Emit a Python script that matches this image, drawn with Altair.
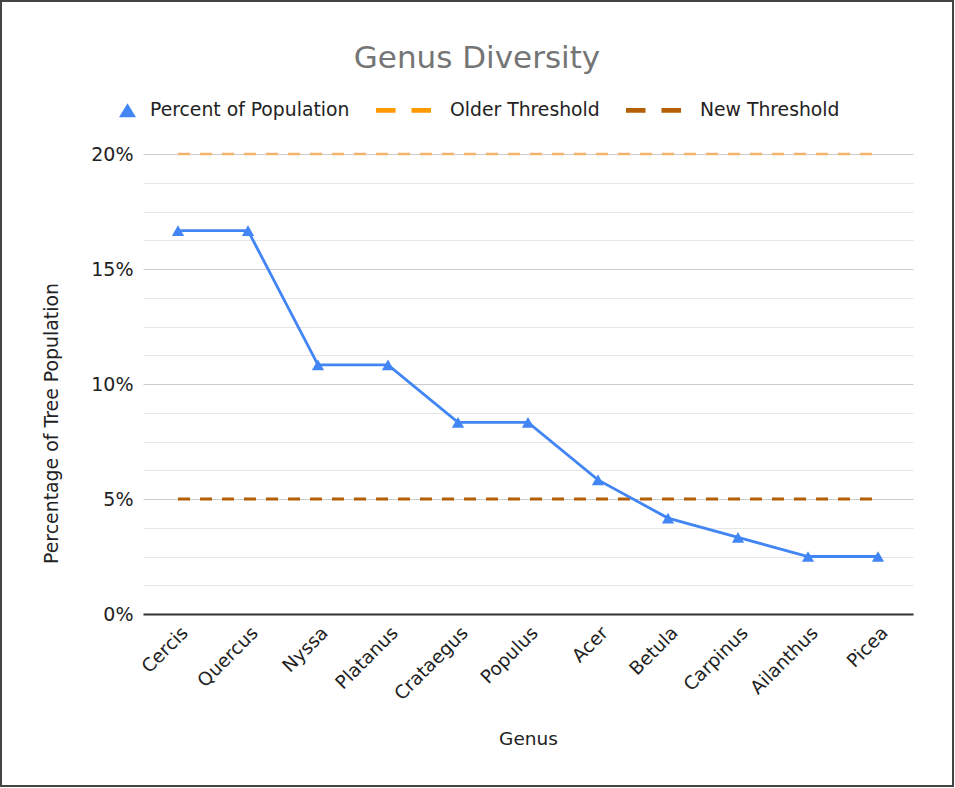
import altair as alt
import pandas as pd

genus = ["Cercis", "Quercus", "Nyssa", "Platanus", "Crataegus", "Populus",
         "Acer", "Betula", "Carpinus", "Ailanthus", "Picea"]
percent = [16.67, 16.67, 10.83, 10.83, 8.33, 8.33, 5.83, 4.17, 3.33, 2.5, 2.5]
older_threshold = [20, 20, 20, 20, 20, 20, 20, 20, 20, 20, 20]
new_threshold = [5, 5, 5, 5, 5, 5, 5, 5, 5, 5, 5]
series_names = ["Percent of Population", "Older Threshold", "New Threshold"]
series_colors = ["#4285f4", "#ff9900", "#b45f06"]
y_ticks = [0, 1.25, 2.5, 3.75, 5, 6.25, 7.5, 8.75, 10, 11.25, 12.5, 13.75,
           15, 16.25, 17.5, 18.75, 20]

rows = []
for name, vals in zip(series_names, [percent, older_threshold, new_threshold]):
    for g, v in zip(genus, vals):
        rows.append({"genus": g, "series": name, "value": v})
df = pd.DataFrame(rows)

FONT = "DejaVu Sans"
TXT = "#222222"

tri_path = "M0.873,-0.255L1.182,0.255L0.564,0.255Z"
dash_path = "M-1,-0.09L-0.29,-0.09L-0.29,0.09L-1,0.09Z M0.29,-0.09L1,-0.09L1,0.09L0.29,0.09Z"

x_enc = alt.X(
    "genus:N", sort=genus,
    scale=alt.Scale(type="point", padding=0.5),
    axis=alt.Axis(labelAngle=315, labelFontSize=18.5, labelColor=TXT, ticks=False,
                  domainColor="#333333", domainWidth=2, grid=False, labelPadding=9,
                  titleFontSize=18.5, titleColor=TXT, titleFontWeight="normal",
                  titleY=130, titleBaseline="alphabetic"),
    title="Genus",
)
y_enc = alt.Y(
    "value:Q",
    scale=alt.Scale(domain=[0, 20], nice=False, zero=True),
    axis=alt.Axis(values=y_ticks, domain=False, ticks=False, labelPadding=10,
                  labelFontSize=19, labelColor=TXT,
                  labelExpr="datum.value % 5 === 0 ? datum.value + '%' : ''",
                  gridColor={"condition": {"test": "datum.value % 5 === 0", "value": "#cccccc"},
                             "value": "#e6e6e6"},
                  gridWidth=1,
                  titleFontSize=18.9, titleColor=TXT, titleFontWeight="normal",
                  titleX=-86, titleY=269, titleAngle=270, titleBaseline="alphabetic"),
    title="Percentage of Tree Population",
)

base = alt.Chart(df).encode(x=x_enc, y=y_enc)

older = base.transform_filter(alt.datum.series == "Older Threshold").mark_line(
    color="#f6b26b", strokeWidth=2.5, strokeDash=[12, 10])
new = base.transform_filter(alt.datum.series == "New Threshold").mark_line(
    color="#b45f06", strokeWidth=3, strokeDash=[12, 10])
line = base.transform_filter(alt.datum.series == "Percent of Population").mark_line(
    color="#4285f4", strokeWidth=2.8)
pts = base.transform_filter(alt.datum.series == "Percent of Population").mark_point(
    shape="triangle-up", filled=True, size=150, color="#4285f4", opacity=1)

leg = alt.Legend(title=None, orient="none", legendX=-67, legendY=-71.5, direction="horizontal",
                 labelFontSize=18.8, labelColor=TXT, labelFont=FONT, labelOffset=19,
                 labelLimit=400, columnPadding=26, symbolSize=3025, symbolStrokeWidth=0,
                 symbolOpacity=1, padding=0)
legend_layer = base.mark_point(filled=True, opacity=0).encode(
    color=alt.Color("series:N", scale=alt.Scale(domain=series_names, range=series_colors), legend=leg),
    shape=alt.Shape("series:N", scale=alt.Scale(domain=series_names, range=[tri_path, dash_path, dash_path]), legend=leg),
)

border = alt.Chart(pd.DataFrame({"k": [0]})).mark_rect(
    fillOpacity=0, stroke="#444444", strokeWidth=2).encode(
    x=alt.value(-142), x2=alt.value(810), y=alt.value(-153), y2=alt.value(632))

chart = alt.layer(older, new, line, pts, legend_layer, border).properties(
    width=770, height=460,
    title=alt.TitleParams("Genus Diversity", fontSize=31, color="#757575", fontWeight="normal",
                          font=FONT, anchor="middle", dx=-51, offset=0, dy=99,
                          baseline="alphabetic"),
    autosize=alt.AutoSizeParams(type="none"),
    padding={"left": 143, "top": 154, "right": 42, "bottom": 174},
    background="white",
).configure(font=FONT).configure_view(strokeWidth=0)

chart.save("out.html", embed_options={"renderer": "svg", "actions": False})
